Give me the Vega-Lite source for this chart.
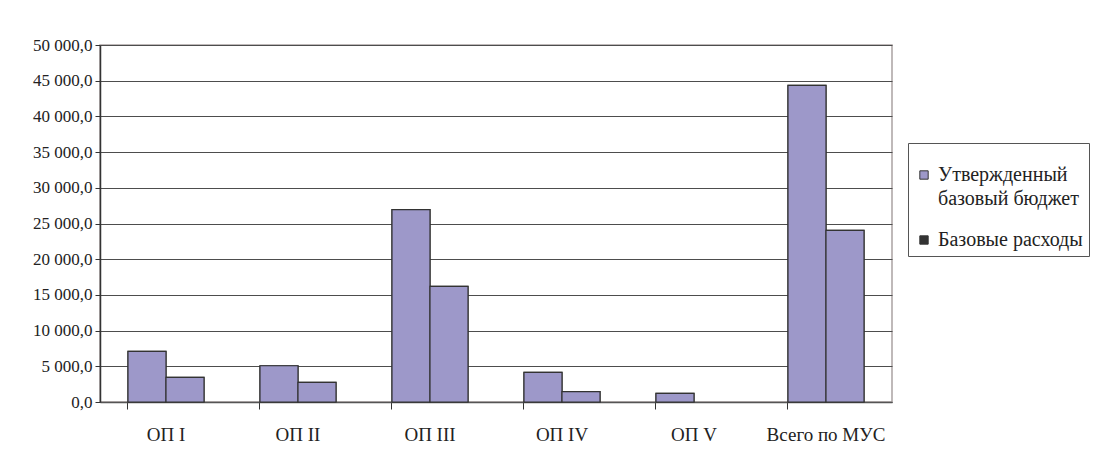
{
  "$schema": "https://vega.github.io/schema/vega-lite/v6.json",
  "autosize": "none",
  "width": 792,
  "height": 357,
  "padding": {"left": 100, "top": 45, "right": 207, "bottom": 60},
  "background": "white",
  "config": {
    "font": "Liberation Serif",
    "view": {"stroke": "#aaa3a3", "strokeWidth": 1.5}
  },
  "data": {
    "values": [
      {"cat": "ОП I", "series": "Утвержденный базовый бюджет", "value": 7100},
      {"cat": "ОП I", "series": "Базовые расходы", "value": 3460},
      {"cat": "ОП II", "series": "Утвержденный базовый бюджет", "value": 5080},
      {"cat": "ОП II", "series": "Базовые расходы", "value": 2760},
      {"cat": "ОП III", "series": "Утвержденный базовый бюджет", "value": 26930},
      {"cat": "ОП III", "series": "Базовые расходы", "value": 16200},
      {"cat": "ОП IV", "series": "Утвержденный базовый бюджет", "value": 4160},
      {"cat": "ОП IV", "series": "Базовые расходы", "value": 1440},
      {"cat": "ОП V", "series": "Утвержденный базовый бюджет", "value": 1220},
      {"cat": "ОП V", "series": "Базовые расходы", "value": 0},
      {"cat": "Всего по МУС", "series": "Утвержденный базовый бюджет", "value": 44350},
      {"cat": "Всего по МУС", "series": "Базовые расходы", "value": 24050}
    ]
  },
  "encoding": {
    "x": {
      "field": "cat",
      "type": "nominal",
      "sort": null,
      "scale": {"paddingInner": 0.424, "paddingOuter": 0.212},
      "axis": {
        "title": null,
        "labelAngle": 0,
        "labelFontSize": 19,
        "labelColor": "#222222",
        "labelPadding": 16,
        "bandPosition": 0,
        "tickSize": 7,
        "tickColor": "#333333",
        "domainColor": "#555555",
        "domainWidth": 1.5,
        "labelBaseline": "top"
      }
    },
    "xOffset": {
      "field": "series",
      "type": "nominal",
      "sort": ["Утвержденный базовый бюджет", "Базовые расходы"]
    },
    "y": {
      "field": "value",
      "type": "quantitative",
      "scale": {"domain": [0, 50000], "nice": false},
      "axis": {
        "title": null,
        "values": [0, 5000, 10000, 15000, 20000, 25000, 30000, 35000, 40000, 45000, 50000],
        "labelExpr": "replace(replace(format(datum.value, ',.1f'), ',', ' '), '.', ',')",
        "labelFontSize": 17,
        "labelColor": "#222222",
        "labelPadding": 3,
        "tickSize": 5,
        "tickColor": "#333333",
        "domainColor": "#333333",
        "domainWidth": 1.5,
        "gridColor": "#4d4d4d",
        "gridWidth": 1
      }
    },
    "strokeOpacity": {
      "condition": {"test": "datum.value == 0", "value": 0},
      "value": 1
    }
  },
  "layer": [
    {
      "mark": {"type": "bar", "stroke": "#333333", "strokeWidth": 1.2},
      "encoding": {
        "color": {
          "field": "series",
          "type": "nominal",
          "scale": {
            "domain": ["Утвержденный базовый бюджет", "Базовые расходы"],
            "range": ["#9d98c9", "#333333"]
          },
          "legend": {
            "title": " ",
            "titleFontSize": 10,
            "titlePadding": 6,
            "orient": "none",
            "legendX": 808,
            "legendY": 98,
            "padding": 6,
            "strokeColor": "#555555",
            "symbolType": "square",
            "symbolSize": 70,
            "symbolStrokeColor": "#333333",
            "symbolStrokeWidth": 1,
            "symbolOpacity": 1,
            "labelFontSize": 20,
            "labelColor": "#222222",
            "labelLimit": 300,
            "labelOffset": 4,
            "rowPadding": 21,
            "labelExpr": "datum.label == 'Утвержденный базовый бюджет' ? ['Утвержденный', 'базовый бюджет'] : datum.label",
            "encode": {
              "labels": {"update": {"lineHeight": {"value": 24}}}
            }
          }
        }
      }
    },
    {
      "mark": {"type": "bar", "stroke": "#333333", "strokeWidth": 1.2, "fill": "#9d98c9", "opacity": 1}
    }
  ]
}
